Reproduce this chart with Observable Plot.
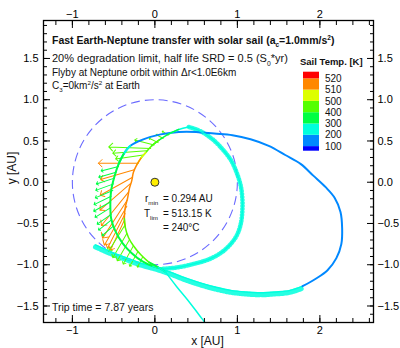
<!DOCTYPE html>
<html><head><meta charset="utf-8">
<script src="https://cdn.jsdelivr.net/npm/d3@7"></script>
<script src="https://cdn.jsdelivr.net/npm/@observablehq/plot@0.6"></script>
<style>
body{margin:0;background:#fff;}
#chart{width:400px;height:348px;}
</style></head><body><div id="chart"></div>
<script>
// ---- Data (AU, temperature K) ----
const tempThresholds = [100, 200, 300, 400, 500, 510, 520];
const tempColors = ["#0000ff", "#0088ff", "#00ffdd", "#00ff44", "#55ff00", "#ddff00", "#ff8800", "#ff0000"];
const xTicks = [-1, 0, 1, 2];
const yTicks = [-1.5, -1, -0.5, 0, 0.5, 1, 1.5];
const earthOrbitAU = 1;

// trajectory legs: [x AU, y AU, sail temperature K]
const departureArc = [
  [-0.72,-0.76,255],[-0.54,-0.84,255],[-0.36,-0.91,255],[-0.17,-0.98,252],[0.01,-1.03,250],
  [0.19,-1.09,245],[0.37,-1.16,240],[0.55,-1.22,235],[0.73,-1.27,230],[0.92,-1.31,225],
  [1.10,-1.33,220],[1.28,-1.34,215],[1.46,-1.33,210],[1.64,-1.31,205],[1.79,-1.26,200]
];
const aphelionArc = [
  [1.79,-1.26,195],[1.95,-1.17,185],[2.09,-1.07,175],[2.20,-0.92,170],[2.26,-0.75,165],
  [2.27,-0.56,160],[2.25,-0.36,160],[2.18,-0.19,160],[2.07,-0.06,162],[1.92,0.08,165],
  [1.77,0.22,168],[1.58,0.33,172],[1.38,0.44,176],[1.16,0.52,180],[0.94,0.57,184],
  [0.72,0.59,187],[0.50,0.61,190],[0.29,0.61,192],[0.07,0.58,194],[-0.14,0.52,196],
  [-0.30,0.44,198],[-0.38,0.34,260],[-0.44,0.22,320],[-0.49,0.07,360],[-0.53,-0.10,380],
  [-0.54,-0.27,380],[-0.53,-0.44,370],[-0.48,-0.59,360],[-0.39,-0.74,340],[-0.28,-0.86,320],
  [-0.15,-0.96,310],[-0.02,-1.02,300],[0.10,-1.05,280]
];
const innerLoop = [
  [0.10,-1.05,280],[0.29,-1.03,260],[0.47,-0.99,255],[0.64,-0.94,250],[0.78,-0.87,250],
  [0.90,-0.77,250],[0.99,-0.65,250],[1.04,-0.51,250],[1.06,-0.35,250],[1.06,-0.19,250],
  [1.04,-0.04,250],[0.99,0.12,250],[0.92,0.27,250],[0.82,0.40,252],[0.70,0.52,255],
  [0.55,0.62,258],[0.41,0.67,262]
];
const perihelionPass = [
  [0.41,0.67,262],[0.29,0.64,280],[0.16,0.58,310],[0.05,0.51,360],[-0.04,0.44,420],
  [-0.11,0.36,460],[-0.17,0.29,505],[-0.22,0.21,515],[-0.26,0.12,518],[-0.28,0.02,519],
  [-0.31,-0.08,518],[-0.33,-0.19,516],[-0.36,-0.31,513],[-0.37,-0.44,511],[-0.36,-0.54,490],
  [-0.32,-0.67,460],[-0.26,-0.77,440],[-0.17,-0.88,420],[-0.07,-0.97,400],[0.04,-1.03,380],
  [0.13,-1.09,290]
];
const escapeLeg = [
  [0.13,-1.09,290],[0.26,-1.26,270],[0.40,-1.43,255],[0.53,-1.60,245],[0.66,-1.77,240],[0.82,-1.97,235]
];
// sail normal vectors: [x AU, y AU, direction deg (clockwise from up), relative magnitude, temperature K]
const sailVectors = [
  [-0.20,0.23,270,0.80,515],[-0.25,0.15,254,0.70,515],[-0.27,0.06,241,0.74,517],
  [-0.30,-0.02,229,0.80,518],[-0.32,-0.12,219,0.86,518],[-0.33,-0.21,213,0.92,516],
  [-0.34,-0.29,210,0.90,514],[-0.36,-0.38,207,0.78,512],[-0.37,-0.46,205,0.66,511],
  [0.16,0.57,304,0.14,450],[0.10,0.53,300,0.16,450],[0.04,0.48,296,0.20,450],
  [-0.01,0.45,285,0.40,450],[-0.05,0.41,272,0.84,450],[-0.10,0.38,266,0.68,460],[-0.14,0.33,262,0.56,470],
  [-0.44,0.19,256,0.36,380],[-0.47,0.12,254,0.36,380],[-0.49,0.05,252,0.38,380],[-0.50,-0.02,250,0.38,380],
  [-0.51,-0.10,247,0.38,380],[-0.53,-0.17,244,0.38,380],[-0.54,-0.24,241,0.38,380],[-0.54,-0.31,238,0.36,370],
  [-0.53,-0.39,235,0.34,370],[-0.53,-0.46,232,0.32,360],[-0.50,-0.53,230,0.30,360],
  [-0.37,-0.53,212,0.60,480],[-0.34,-0.62,210,0.56,460],[-0.31,-0.70,210,0.48,450],
  [-0.26,-0.77,209,0.42,440],[-0.21,-0.85,209,0.32,430],[-0.15,-0.91,207,0.22,420]
];

// ---- Layout ----
const W = 400, H = 348, mL = 43, mR = 27, mT = 20, mB = 26;
const xDomain = [-1.35, 2.65], yDomain = [-1.70, 1.96];
const pxPerAU = (W - mL - mR) / (xDomain[1] - xDomain[0]);
const xMinor = d3.range(-1.2, 2.61, 0.2);
const yMinor = d3.range(-1.6, 1.91, 0.1);

function colorRuns(leg, name) {
  const out = []; let run = 0, bin = null, runT = null;
  leg.forEach((p, i) => {
    const b = d3.bisectRight(tempThresholds, p[2]);
    if (bin !== null && b !== bin) {
      out.push({x: p[0], y: p[1], T: runT, run: name + run});
      run++; runT = p[2];
      out.push({x: leg[i-1][0], y: leg[i-1][1], T: runT, run: name + run});
    }
    if (bin === null) runT = p[2];
    bin = b;
    out.push({x: p[0], y: p[1], T: runT, run: name + run});
  });
  return out;
}
// hatch band: whole leg in one colour (its first temperature)
const bandPts = leg => leg.map(([x, y]) => ({x, y, T: leg[0][2]}));
const legs = {departureArc, aphelionArc, innerLoop, perihelionPass, escapeLeg};
const legWidth = {departureArc: 1.4, aphelionArc: 2, innerLoop: 1.4, perihelionPass: 1.5, escapeLeg: 1.5};
const vecs = sailVectors.map(([x, y, a, m, T]) => ({x, y, a, m, T}));

const axisSet = (axis, anchor, major, minor, pad) => [
  axis(minor, {anchor, tickSize: -4, fill: "none", label: null}),
  axis(major, {anchor, tickSize: -7, fill: "none", label: null}),
  axis(major, {anchor, tickSize: 0, tickPadding: pad, label: null, fontSize: 11})
];

const plot = Plot.plot({
  width: W, height: H, marginLeft: mL, marginRight: mR, marginTop: mT, marginBottom: mB,
  x: {domain: xDomain}, y: {domain: yDomain},
  color: {type: "threshold", domain: tempThresholds, range: tempColors},
  r: {type: "linear", domain: [0, 1], range: [0, pxPerAU]},
  length: {type: "linear", domain: [0, 1], range: [0, 50]},
  style: {fontFamily: "Liberation Sans, Arial, sans-serif", fontSize: "11px", color: "#000", background: "#fff"},
  marks: [
    Plot.dot([{x: 0, y: 0, r: earthOrbitAU}], {x: "x", y: "y", r: "r", fill: "none", stroke: "#6b6bff", strokeWidth: 1.1, strokeDasharray: "9,5"}),
    Plot.line(bandPts(departureArc), {x: "x", y: "y", stroke: "T", strokeWidth: 5, strokeDasharray: "1.2,1.8", strokeOpacity: 0.85, curve: "catmull-rom", dy: 2, clip: true}),
    Plot.line(bandPts(innerLoop), {x: "x", y: "y", stroke: "T", strokeWidth: 4.5, strokeDasharray: "1.2,1.8", strokeOpacity: 0.85, curve: "catmull-rom", clip: true}),
    Plot.vector(vecs, {x: "x", y: "y", rotate: "a", length: "m", stroke: "T", anchor: "start", r: 1.6, strokeWidth: 1, clip: true}),
    ...Object.entries(legs).map(([name, leg]) =>
      Plot.line(colorRuns(leg, name), {x: "x", y: "y", z: "run", stroke: "T", strokeWidth: legWidth[name], curve: "catmull-rom", strokeLinecap: "round", clip: true})),
    Plot.dot([{x: 0, y: 0}], {x: "x", y: "y", r: 4, fill: "#ffee00", stroke: "#333", strokeWidth: 1}),
    ...axisSet(Plot.axisX, "bottom", xTicks, xMinor, 4),
    ...axisSet(Plot.axisX, "top", xTicks, xMinor, 3),
    ...axisSet(Plot.axisY, "left", yTicks, yMinor, 5),
    ...axisSet(Plot.axisY, "right", yTicks, yMinor, 4),
    Plot.frame({stroke: "#000", strokeWidth: 1.3})
  ]
});
document.getElementById("chart").appendChild(plot);

// ---- Annotations and legend ----
const svg = d3.select(plot);
const g = svg.append("g").attr("font-family", "Liberation Sans, Arial, sans-serif").attr("fill", "#111");
function richText(x, y, parts, size, weight = "normal", anchor = "start", transform = null) {
  const t = g.append("text").attr("x", x).attr("y", y).attr("font-size", size)
    .attr("font-weight", weight).attr("text-anchor", anchor);
  if (transform) t.attr("transform", transform);
  let shift = 0;
  for (const [s, kind] of parts) {
    const target = kind === "sub" ? size * 0.32 : kind === "sup" ? -size * 0.4 : 0;
    const ts = t.append("tspan").text(s).attr("dy", target - shift);
    if (kind) ts.attr("font-size", size * 0.62);
    shift = target;
  }
}
richText(52, 44, [["Fast Earth-Neptune transfer with solar sail (a", ""], ["c", "sub"], ["=1.0mm/s", ""], ["2", "sup"], [")", ""]], 10.5, "bold");
richText(52, 62, [["20% degradation limit, half life SRD = 0.5 (S", ""], ["0", "sub"], ["*yr)", ""]], 11);
richText(52, 75.5, [["Flyby at Neptune orbit within \u0394r<1.0E6km", ""]], 10);
richText(52, 89, [["C", ""], ["3", "sub"], ["=0km", ""], ["2", "sup"], ["/s", ""], ["2", "sup"], [" at Earth", ""]], 10);
richText(52, 310.5, [["Trip time = 7.87 years", ""]], 10.5);
richText(145, 202, [["r", ""], ["min", "sub"]], 10);
richText(163, 202, [["= 0.294 AU", ""]], 10);
richText(144, 216.5, [["T", ""], ["lim", "sub"]], 10);
richText(163, 216.5, [["= 513.15 K", ""]], 10);
richText(163, 231, [["= 240\u00b0C", ""]], 10);
richText(207.5, 344.5, [["x [AU]", ""]], 12, "normal", "middle");
richText(0, 0, [["y [AU]", ""]], 12, "normal", "middle", "translate(16,168) rotate(-90)");

// legend
const color = plot.scale("color");
richText(300, 64.5, [["Sail Temp. [K]", ""]], 9.5, "bold");
const bounds = [150.7, 146.1, 134.8, 123.5, 112.2, 100.9, 89.6, 78.3, 71.7];
color.range.forEach((c, i) => {
  g.append("rect").attr("x", 303).attr("width", 16).attr("y", bounds[i + 1])
    .attr("height", bounds[i] - bounds[i + 1]).attr("fill", c);
});
color.domain.forEach((v, j) => {
  richText(325, bounds[j + 1] + 3.6, [[String(v), ""]], 10);
});
</script></body></html>
